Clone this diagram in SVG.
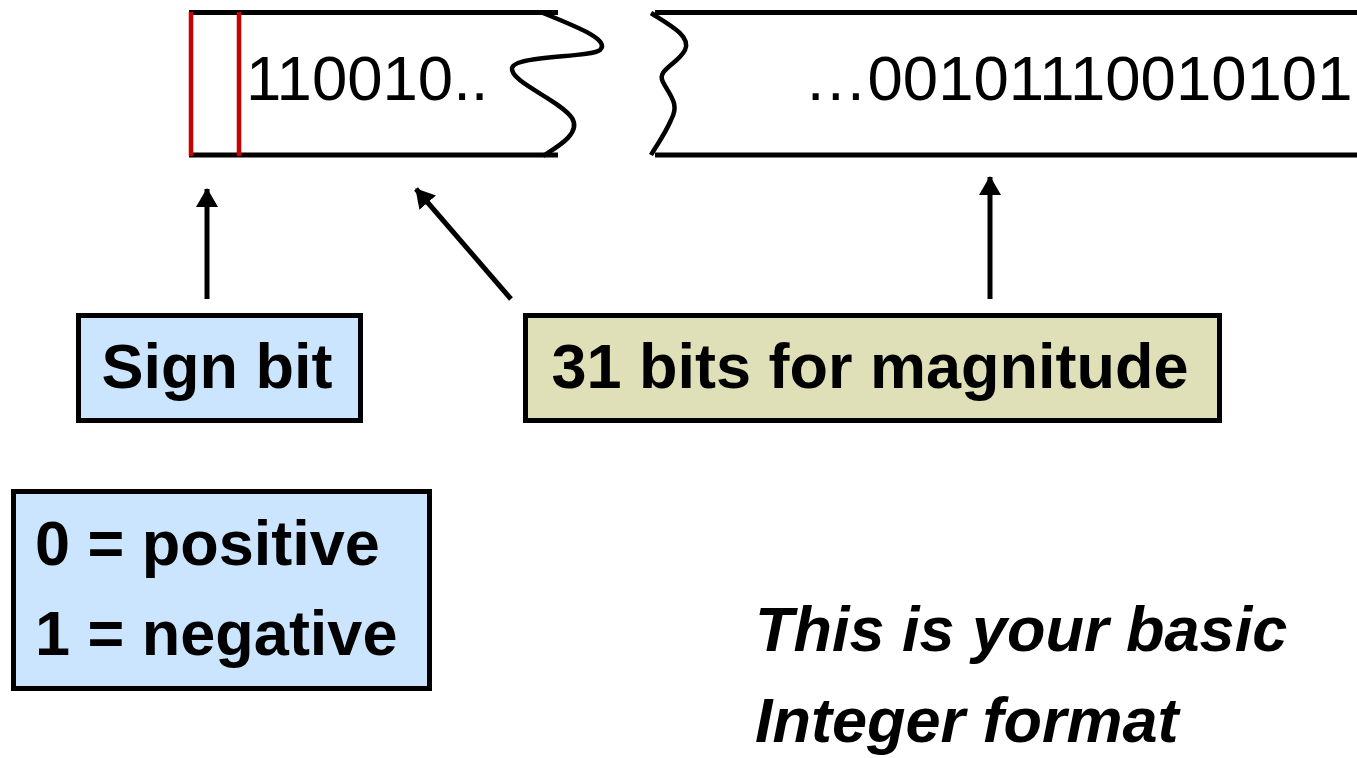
<svg xmlns="http://www.w3.org/2000/svg" width="1357" height="758" viewBox="0 0 1357 758">
<style>
.edge{stroke:#000;stroke-width:5;fill:none}
.wave{stroke:#000;stroke-width:4.5;fill:none}
.red{stroke:#cc0000;stroke-width:4.5}
.box{stroke:#000;stroke-width:5}
.blue{fill:#cce5ff}
.khaki{fill:#dfdfb8}
.num{font-family:"Liberation Sans",Arial,sans-serif;font-size:63.5px;fill:#000}
.lbl{font-family:"Liberation Sans",Arial,sans-serif;font-size:63px;font-weight:bold;fill:#000}
.it{font-family:"Liberation Sans",Arial,sans-serif;font-size:63px;font-weight:bold;font-style:italic;fill:#000}
.arr{stroke:#000;stroke-width:5;fill:none}
</style>
<defs>
<marker id="ah" markerWidth="20" markerHeight="22" refX="18" refY="11" orient="auto" markerUnits="userSpaceOnUse" viewBox="0 0 20 22">
<path d="M0,0 L19,11 L0,22 Z" fill="#000"/>
</marker>
</defs>
<g id="word-left">
<line class="edge" x1="189" y1="12.5" x2="558" y2="12.5"/>
<line class="edge" x1="189" y1="155" x2="558" y2="155"/>
<path class="wave" d="M543,13 C580,28 610,40 600,50 C590,58 515,55 512,68 C510,82 560,100 572,118 C582,134 555,148 543,156"/>
<line class="red" x1="191" y1="12" x2="191" y2="156"/>
<line class="red" x1="239" y1="12" x2="239" y2="156"/>
<text class="num" x="246" y="100">110010..</text>
</g>
<g id="word-right">
<line class="edge" x1="655" y1="12.5" x2="1357" y2="12.5"/>
<line class="edge" x1="655" y1="155" x2="1357" y2="155"/>
<path class="wave" d="M651,13 C668,24 692,36 685,50 C678,64 656,70 663,82 C670,96 680,104 671,120 C664,136 656,146 651,155"/>
<text class="num" x="804" y="100">…00101110010101</text>
</g>
<g id="connectors">
<line class="arr" x1="207" y1="299" x2="207" y2="189" marker-end="url(#ah)"/>
<line class="arr" x1="511" y1="299" x2="416" y2="189" marker-end="url(#ah)"/>
<line class="arr" x1="990" y1="299" x2="990" y2="177" marker-end="url(#ah)"/>
</g>
<g id="sign-bit">
<rect class="box blue" x="78.5" y="315.5" width="282" height="105"/>
<text class="lbl" x="217" y="388" text-anchor="middle">Sign bit</text>
</g>
<g id="magnitude">
<rect class="box khaki" x="525.5" y="315.5" width="694" height="105"/>
<text class="lbl" x="870" y="388" text-anchor="middle">31 bits for magnitude</text>
</g>
<g id="sign-values">
<rect class="box blue" x="13.5" y="491.5" width="416" height="197"/>
<text class="lbl" x="35" y="565">0 = positive</text>
<text class="lbl" x="35" y="655">1 = negative</text>
</g>
<g id="caption">
<text class="it" x="755" y="651">This is your basic</text>
<text class="it" x="755" y="742">Integer format</text>
</g>
</svg>
